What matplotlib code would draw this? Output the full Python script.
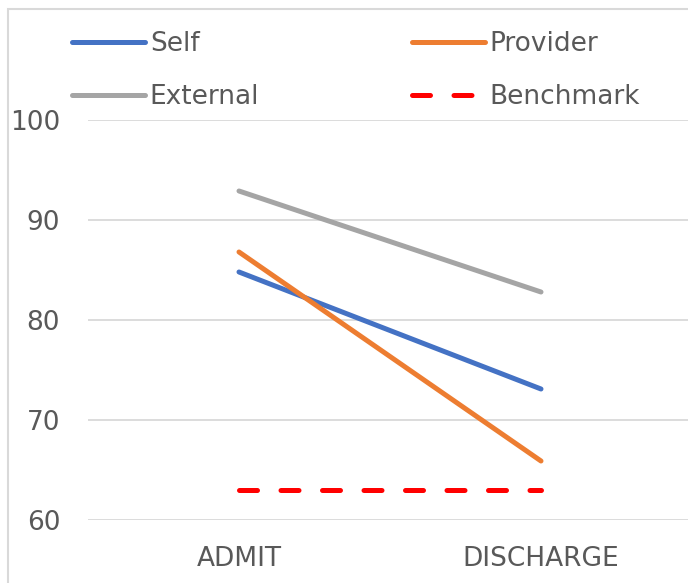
import matplotlib
matplotlib.use("Agg")
import matplotlib.pyplot as plt
from matplotlib.patches import Rectangle

categories = ["ADMIT", "DISCHARGE"]
self_vals = [84.8, 73.1]
provider_vals = [86.8, 65.9]
external_vals = [92.9, 82.8]
benchmark_vals = [63.0, 63.0]
yticks = [60, 70, 80, 90, 100]

TXT = "#595959"
GRID = "#D9D9D9"
FS = 19

plt.rcParams['font.family'] = ['DejaVu Sans']

fig = plt.figure(figsize=(6.88, 5.83), dpi=100)
ax = fig.add_axes([88/688, 1-520/583, 604/688, 400/583])

x = list(range(len(categories)))
l_self, = ax.plot(x, self_vals, color="#4472C4", lw=3.6, solid_capstyle="round", label="Self")
l_prov, = ax.plot(x, provider_vals, color="#ED7D31", lw=3.6, solid_capstyle="round", label="Provider")
l_ext, = ax.plot(x, external_vals, color="#A5A5A5", lw=3.6, solid_capstyle="round", label="External")
l_bench, = ax.plot(x, benchmark_vals, color="#FF0000", lw=3.6, dash_capstyle="round",
                   linestyle=(0, (3.6, 4.7)), label="Benchmark")

ax.set_xlim(-0.5, len(categories) - 0.5)
ax.set_ylim(60, 100)
ax.set_yticks(yticks)
ax.set_xticks(x)
ax.set_xticklabels(categories)
ax.grid(axis="y", color=GRID, lw=1.3)
ax.set_axisbelow(True)
for s in ax.spines.values():
    s.set_visible(False)
ax.tick_params(axis="both", length=0, labelsize=FS, labelcolor=TXT)
ax.tick_params(axis="y", pad=20)
ax.tick_params(axis="x", pad=19)

common = dict(frameon=False, fontsize=FS, handlelength=2.75, handletextpad=0.2,
              labelspacing=1.02, borderpad=0, borderaxespad=0, loc="upper left",
              bbox_transform=fig.transFigure)
leg1 = fig.legend([l_self, l_ext], ["Self", "External"],
                  bbox_to_anchor=(72/688, 1-31/583), **common)
leg2 = fig.legend([l_prov, l_bench], ["Provider", "Benchmark"],
                  bbox_to_anchor=(412/688, 1-31/583), **common)
for leg in (leg1, leg2):
    for t in leg.get_texts():
        t.set_color(TXT)

fig.patches.append(Rectangle((8/688, -0.1), 1.2, 1.1 - 9/583, transform=fig.transFigure,
                             fill=False, edgecolor=GRID, lw=1.5, clip_on=False))

fig.savefig("out.png", dpi=100)
